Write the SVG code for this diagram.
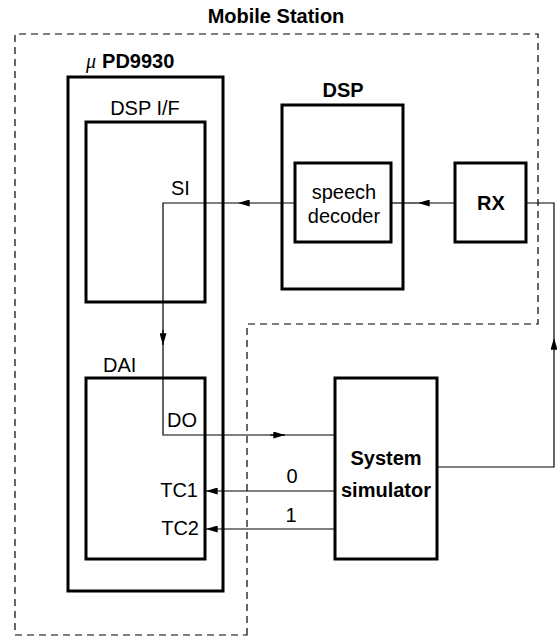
<svg xmlns="http://www.w3.org/2000/svg" width="557" height="637" viewBox="0 0 557 637">
<style>
.box{fill:none;stroke:#000;stroke-width:3}
.ln{fill:none;stroke:#000;stroke-width:1.2}
.dash{fill:none;stroke:#000;stroke-width:1.2;stroke-dasharray:7,5}
text{font-family:"Liberation Sans",Arial,sans-serif;font-size:20px;fill:#000}
.b{font-weight:bold}
.c{text-anchor:middle}
.r{text-anchor:end}
</style>
<defs>
<marker id="ah" viewBox="0 0 10 6" refX="10" refY="3" markerWidth="14" markerHeight="7" markerUnits="userSpaceOnUse" orient="auto">
<path d="M0,0 L10,3 L0,6 z" fill="#000"/>
</marker>
</defs>
<rect width="557" height="637" fill="#fff"/>
<g id="mobile-station">
<path class="dash" d="M247,635 L247,324 L538,324 L538,34 L15,34 L15,635 Z"/>
<text class="b c" x="276" y="23" font-size="21">Mobile Station</text>
</g>
<g id="upd9930">
<rect class="box" x="68" y="77" width="155" height="514"/>
<text x="86" y="68"><tspan font-family="'Liberation Serif',serif" font-style="italic" font-size="20">μ</tspan><tspan class="b" dx="6">PD9930</tspan></text>
</g>
<g id="dsp-if">
<rect class="box" x="86" y="122" width="119" height="180"/>
<text class="c" x="145" y="115">DSP I/F</text>
<text x="171" y="195">SI</text>
</g>
<g id="dai">
<rect class="box" x="86" y="378" width="119" height="181"/>
<text x="103" y="372">DAI</text>
<text x="167" y="427">DO</text>
<text class="r" x="198" y="497">TC1</text>
<text class="r" x="199" y="535">TC2</text>
</g>
<g id="dsp">
<rect class="box" x="282" y="105" width="121" height="184"/>
<text class="b c" x="343" y="97">DSP</text>
</g>
<g id="speech-decoder">
<rect class="box" x="295" y="163" width="96" height="79"/>
<text class="c" x="344" y="199">speech</text>
<text class="c" x="344" y="223">decoder</text>
</g>
<g id="rx">
<rect class="box" x="455" y="163" width="71" height="79"/>
<text class="b c" x="491" y="210">RX</text>
</g>
<g id="system-simulator">
<rect class="box" x="335" y="378" width="102" height="181"/>
<text class="b c" x="386" y="465">System</text>
<text class="b c" x="386" y="497">simulator</text>
</g>
<g id="connectors">
<path class="ln" d="M455,203 L418,203" marker-end="url(#ah)"/>
<path class="ln" d="M418,203 L391,203"/>
<path class="ln" d="M295,203 L238,203" marker-end="url(#ah)"/>
<path class="ln" d="M238,203 L163,203 L163,345"/>
<path class="ln" d="M163,330 L163,345" marker-end="url(#ah)"/>
<path class="ln" d="M163,345 L163,435 L285,435"/>
<path class="ln" d="M270,435 L285,435" marker-end="url(#ah)"/>
<path class="ln" d="M285,435 L335,435"/>
<path class="ln" d="M526,203 L554,203 L554,338"/>
<path class="ln" d="M437,467 L554,467 L554,338" marker-end="url(#ah)"/>
<path class="ln" d="M335,491 L206,491" marker-end="url(#ah)"/>
<path class="ln" d="M335,529 L206,529" marker-end="url(#ah)"/>
<text class="c" x="292" y="483">0</text>
<text class="c" x="291" y="522">1</text>
</g>
</svg>
